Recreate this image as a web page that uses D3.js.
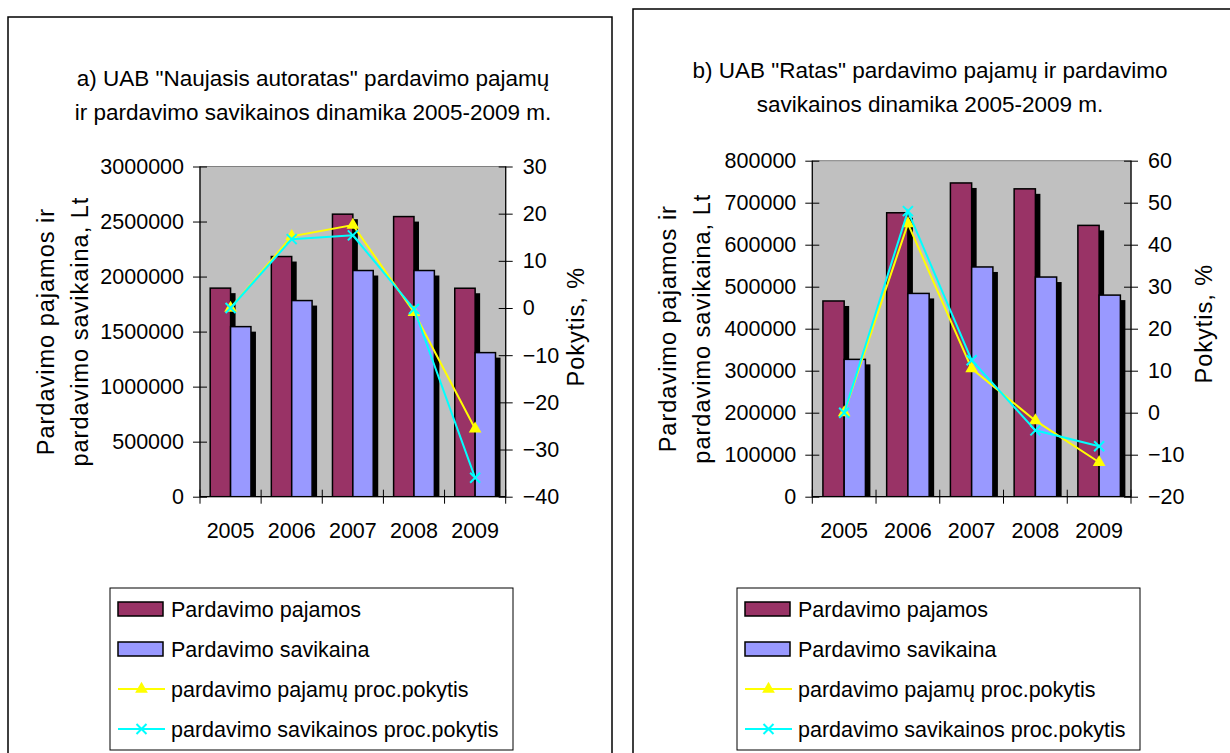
<!DOCTYPE html>
<html>
<head>
<meta charset="utf-8">
<script src="https://cdn.jsdelivr.net/npm/d3@7"></script>
<style>
  html, body { margin: 0; padding: 0; background: #ffffff; }
  svg { display: block; }
  text { font-family: Arial, "Liberation Sans", sans-serif; fill: #000; }
</style>
</head>
<body>
<svg id="chart" width="1230" height="753"></svg>
<script>
// Years on the category axis
const years = ["2005", "2006", "2007", "2008", "2009"];

// UAB "Naujasis autoratas" (Lt)
const naujRevenue = [1895000, 2182000, 2567000, 2545000, 1894000];
const naujCost    = [1545000, 1782000, 2055000, 2055000, 1309000];
// year-over-year change, %
const naujRevenueChange = [0, 15.2, 17.6, -0.9, -25.6];
const naujCostChange    = [0, 14.6, 15.4, -0.2, -36.0];

// UAB "Ratas" (Lt)
const ratasRevenue = [466000, 676000, 747000, 733000, 646000];
const ratasCost    = [327000, 484000, 547000, 523000, 480000];
const ratasRevenueChange = [0, 45.0, 10.5, -1.9, -11.8];
const ratasCostChange    = [0, 48.0, 12.5, -4.2, -8.0];

// Axis ticks
const naujLeftTicks  = [0, 500000, 1000000, 1500000, 2000000, 2500000, 3000000];
const naujRightTicks = [-40, -30, -20, -10, 0, 10, 20, 30];
const ratasLeftTicks  = [0, 100000, 200000, 300000, 400000, 500000, 600000, 700000, 800000];
const ratasRightTicks = [-20, -10, 0, 10, 20, 30, 40, 50, 60];

// Text
const naujTitle  = ['a) UAB "Naujasis autoratas" pardavimo pajamų', 'ir pardavimo savikainos dinamika 2005-2009 m.'];
const ratasTitle = ['b) UAB "Ratas" pardavimo pajamų ir pardavimo', 'savikainos dinamika 2005-2009 m.'];
const leftAxisTitle  = ["Pardavimo pajamos ir", "pardavimo savikaina, Lt"];
const rightAxisTitle = "Pokytis, %";
const seriesNames = ["Pardavimo pajamos", "Pardavimo savikaina",
                     "pardavimo pajamų proc.pokytis", "pardavimo savikainos proc.pokytis"];

const COLORS = { revenue: "#993366", cost: "#9999FF", revChg: "#FFFF00", costChg: "#00FFFF" };

const svg = d3.select("#chart");

function drawPanel(cfg) {
  const g = svg.append("g");

  // outer frame
  g.append("rect")
    .attr("x", cfg.frame.x).attr("y", cfg.frame.y)
    .attr("width", cfg.frame.w).attr("height", cfg.frame.h)
    .attr("fill", "#fff").attr("stroke", "#000").attr("stroke-width", 1.5);

  // title
  const titleG = g.append("text")
    .attr("text-anchor", "middle")
    .style("font-size", "22.5px");
  cfg.title.forEach((line, i) => {
    titleG.append("tspan").attr("x", cfg.titleX).attr("y", cfg.titleY + i * 34).text(line);
  });

  const p = cfg.plot;
  const x = d3.scaleBand().domain(years).range([p.x0, p.x1]);
  const yL = d3.scaleLinear().domain([cfg.leftTicks[0], cfg.leftTicks[cfg.leftTicks.length - 1]]).range([p.y1, p.y0]);
  const yR = d3.scaleLinear().domain([cfg.rightTicks[0], cfg.rightTicks[cfg.rightTicks.length - 1]]).range([p.y1, p.y0]);

  const clipId = "clip-" + cfg.id;
  g.append("clipPath").attr("id", clipId)
    .append("rect").attr("x", p.x0).attr("y", p.y0).attr("width", p.x1 - p.x0).attr("height", p.y1 - p.y0);

  // plot area
  g.append("rect")
    .attr("x", p.x0).attr("y", p.y0).attr("width", p.x1 - p.x0).attr("height", p.y1 - p.y0)
    .attr("fill", "#C0C0C0").attr("stroke", "#808080").attr("stroke-width", 1);

  const bw = x.bandwidth() / 3;
  const shadow = 5;
  const barsG = g.append("g").attr("clip-path", `url(#${clipId})`);

  const barSeries = [
    { values: cfg.revenue, color: COLORS.revenue, offset: 0.5 },
    { values: cfg.cost,    color: COLORS.cost,    offset: 1.5 }
  ];
  barSeries.forEach(s => {
    const rows = years.map((yr, i) => ({ yr, v: s.values[i] }));
    barsG.selectAll(null).data(rows).enter().append("rect")
      .attr("x", d => x(d.yr) + bw * s.offset + shadow)
      .attr("y", d => yL(d.v) + shadow)
      .attr("width", bw)
      .attr("height", d => p.y1 - yL(d.v))
      .attr("fill", "#000");
    barsG.selectAll(null).data(rows).enter().append("rect")
      .attr("x", d => x(d.yr) + bw * s.offset)
      .attr("y", d => yL(d.v))
      .attr("width", bw)
      .attr("height", d => p.y1 - yL(d.v))
      .attr("fill", s.color).attr("stroke", "#000").attr("stroke-width", 1.5);
  });

  // left axis
  const axL = g.append("g").attr("transform", `translate(${p.x0},0)`)
    .call(d3.axisLeft(yL).tickValues(cfg.leftTicks).tickFormat(d3.format("d")).tickSize(7).tickPadding(9));
  axL.selectAll(".tick line").attr("x2", -7).attr("x1", 7);
  axL.select(".domain").attr("d", `M0,${p.y0}V${p.y1}`);

  // right axis
  const axR = g.append("g").attr("transform", `translate(${p.x1},0)`)
    .call(d3.axisRight(yR).tickValues(cfg.rightTicks).tickFormat(d3.format("d")).tickSize(7).tickPadding(10));
  axR.selectAll(".tick line").attr("x2", 7).attr("x1", -7);
  axR.select(".domain").attr("d", `M0,${p.y0}V${p.y1}`);

  // category axis with ticks between categories
  const axB = g.append("g").attr("transform", `translate(0,${p.y1})`)
    .call(d3.axisBottom(x).tickSize(0).tickPadding(26));
  axB.select(".domain").attr("d", `M${p.x0},0H${p.x1}`);
  const bounds = years.map(yr => x(yr)).concat([p.x1]);
  axB.selectAll(null).data(bounds).enter().append("line")
    .attr("x1", d => d).attr("x2", d => d).attr("y1", -7).attr("y2", 7)
    .attr("stroke", "#000");

  [axL, axR, axB].forEach(a => {
    a.selectAll(".domain").attr("stroke", "#000").attr("stroke-width", 1.2);
    a.selectAll(".tick line").attr("stroke", "#000");
    a.selectAll("text").style("font-size", "21.5px").attr("fill", "#000");
  });

  // change lines (secondary axis)
  const lineGen = d3.line().x((d, i) => x(years[i]) + x.bandwidth() / 2).y(d => yR(d));
  const tri = d3.symbol().type(d3.symbolTriangle).size(70);
  const lineG = g.append("g");

  lineG.append("path").attr("d", lineGen(cfg.revChg))
    .attr("fill", "none").attr("stroke", COLORS.revChg).attr("stroke-width", 2);
  lineG.selectAll(null).data(cfg.revChg).enter().append("path")
    .attr("d", tri)
    .attr("transform", (d, i) => `translate(${x(years[i]) + x.bandwidth() / 2},${yR(d)})`)
    .attr("fill", COLORS.revChg);

  lineG.append("path").attr("d", lineGen(cfg.costChg))
    .attr("fill", "none").attr("stroke", COLORS.costChg).attr("stroke-width", 2);
  lineG.selectAll(null).data(cfg.costChg).enter().append("path")
    .attr("d", "M-5,-5L5,5M-5,5L5,-5")
    .attr("transform", (d, i) => `translate(${x(years[i]) + x.bandwidth() / 2},${yR(d)})`)
    .attr("fill", "none").attr("stroke", COLORS.costChg).attr("stroke-width", 2);

  // axis titles
  const cy = (p.y0 + p.y1) / 2;
  leftAxisTitle.forEach((line, i) => {
    g.append("text")
      .attr("transform", `translate(${cfg.leftTitleX + i * 34},${cy}) rotate(-90)`)
      .attr("text-anchor", "middle")
      .style("font-size", "23.5px").style("letter-spacing", "1px")
      .text(line);
  });
  g.append("text")
    .attr("transform", `translate(${cfg.rightTitleX},${cy - 5}) rotate(-90)`)
    .attr("text-anchor", "middle")
    .style("font-size", "23.5px").style("letter-spacing", "1px")
    .text(rightAxisTitle);

  // legend
  const L = cfg.legend;
  const lg = g.append("g").attr("transform", `translate(${L.x},${L.y})`);
  lg.append("rect").attr("width", L.w).attr("height", L.h)
    .attr("fill", "#fff").attr("stroke", "#000").attr("stroke-width", 1);
  const rowY = i => 21 + i * 40;
  [COLORS.revenue, COLORS.cost].forEach((c, i) => {
    lg.append("rect").attr("x", 8).attr("y", rowY(i) - 7).attr("width", 45).attr("height", 14)
      .attr("fill", c).attr("stroke", "#000").attr("stroke-width", 1.5);
  });
  lg.append("line").attr("x1", 8).attr("x2", 55).attr("y1", rowY(2)).attr("y2", rowY(2))
    .attr("stroke", COLORS.revChg).attr("stroke-width", 2);
  lg.append("path").attr("d", tri).attr("transform", `translate(31.5,${rowY(2)})`).attr("fill", COLORS.revChg);
  lg.append("line").attr("x1", 8).attr("x2", 55).attr("y1", rowY(3)).attr("y2", rowY(3))
    .attr("stroke", COLORS.costChg).attr("stroke-width", 2);
  lg.append("path").attr("d", "M-5,-5L5,5M-5,5L5,-5").attr("transform", `translate(31.5,${rowY(3)})`)
    .attr("fill", "none").attr("stroke", COLORS.costChg).attr("stroke-width", 2);
  seriesNames.forEach((name, i) => {
    lg.append("text").attr("x", 61).attr("y", rowY(i)).attr("dy", "0.35em")
      .style("font-size", "21.5px").text(name);
  });
}

drawPanel({
  id: "a",
  frame: { x: 8, y: 17, w: 604, h: 760 },
  title: naujTitle, titleX: 313, titleY: 86,
  plot: { x0: 200, x1: 505.7, y0: 166.5, y1: 496.7 },
  leftTicks: naujLeftTicks, rightTicks: naujRightTicks,
  revenue: naujRevenue, cost: naujCost, revChg: naujRevenueChange, costChg: naujCostChange,
  leftTitleX: 54, rightTitleX: 584,
  legend: { x: 110, y: 588, w: 403, h: 162 }
});

drawPanel({
  id: "b",
  frame: { x: 633, y: 9, w: 620, h: 770 },
  title: ratasTitle, titleX: 930, titleY: 78,
  plot: { x0: 812.3, x1: 1131, y0: 160.7, y1: 496.7 },
  leftTicks: ratasLeftTicks, rightTicks: ratasRightTicks,
  revenue: ratasRevenue, cost: ratasCost, revChg: ratasRevenueChange, costChg: ratasCostChange,
  leftTitleX: 676, rightTitleX: 1212,
  legend: { x: 737, y: 588, w: 403, h: 162 }
});
</script>
</body>
</html>
